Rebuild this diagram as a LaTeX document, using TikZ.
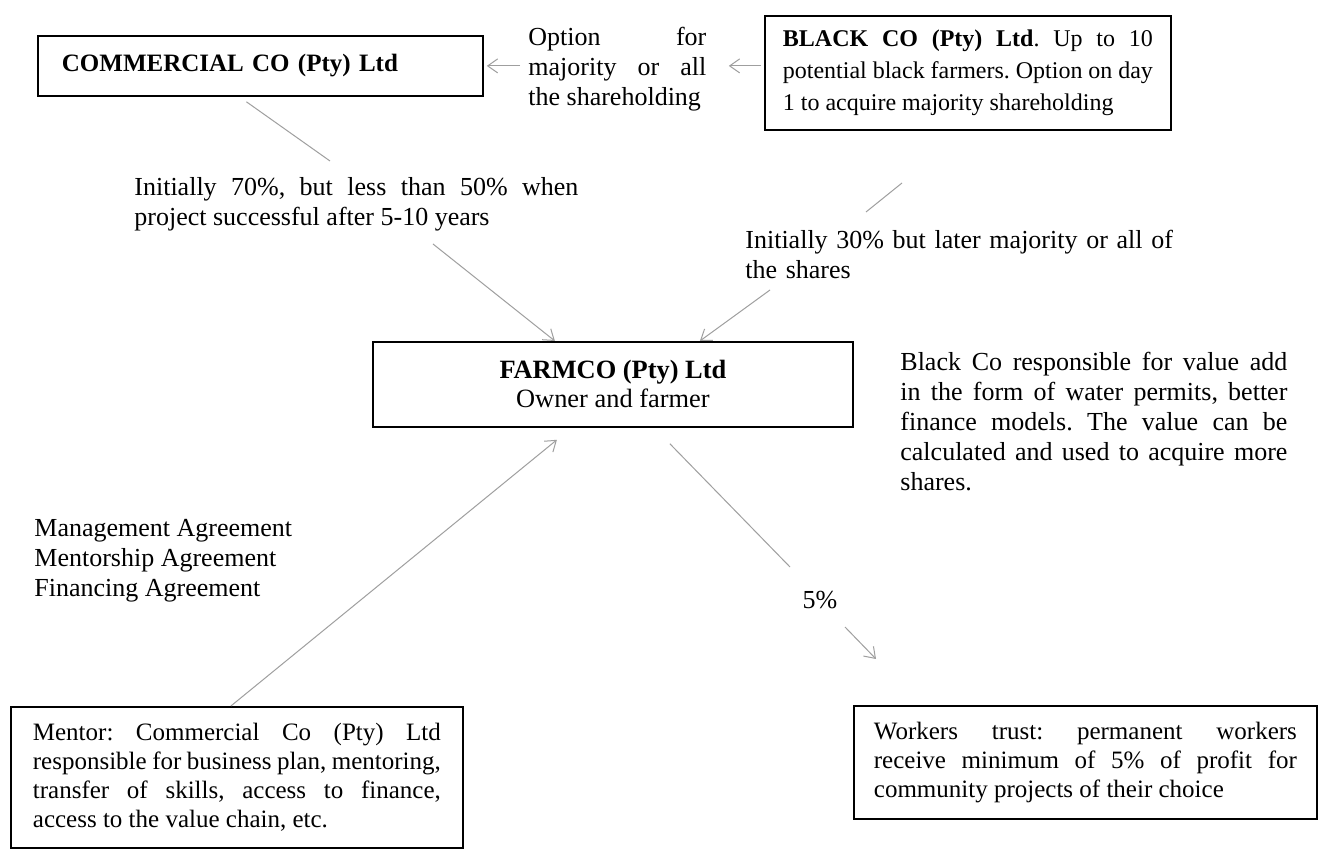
\documentclass[tikz,border=0pt]{standalone}
\usepackage{fontspec}
\setmainfont{Liberation Serif}
\usetikzlibrary{arrows.meta}
\frenchspacing

\newcommand{\tightfont}{\fontsize{12.5pt}{14.5pt}\selectfont}
\newcommand{\loosefont}{\fontsize{13pt}{15pt}\selectfont}
\newcommand{\blackfont}{\fontsize{12pt}{16pt}\selectfont}
\newcommand{\farmfont}{\fontsize{13.2pt}{14.5pt}\selectfont}

\tikzset{
  boxnode/.style={draw=black, line width=0.9pt, anchor=north west, align=justify},
  txtnode/.style={inner sep=0pt, anchor=north west, align=justify},
  link/.style={draw=gray!75, line width=0.5pt},
  linkarrow/.style={link, -{Straight Barb[length=5pt,width=7pt]}},
}

\begin{document}
\begin{tikzpicture}[x=0.5pt,y=-0.5pt]
\useasboundingbox (0,0) rectangle (1318,849);
\fill[white] (0,0) rectangle (1318,849);

% boxes
\node[boxnode, align=left, text width=198.5pt, inner xsep=12pt, minimum height=30pt, font=\tightfont\bfseries] (commercial) at (37,35) {COMMERCIAL CO (Pty) Ltd};
\node[boxnode, text width=185pt, inner xsep=9pt, minimum height=57pt, font=\blackfont] (black) at (764,15) {\textbf{BLACK CO (Pty) Ltd}. Up to 10\linebreak potential black farmers. Option on day\linebreak 1 to acquire majority shareholding};
\node[boxnode, align=center, inner sep=0pt, minimum width=240pt, minimum height=42.5pt, font=\farmfont] (farmco) at (372,341) {\textbf{FARMCO (Pty) Ltd}\\Owner and farmer};
\node[boxnode, text width=204pt, inner xsep=11pt, minimum height=70.5pt, font=\tightfont] (mentor) at (10,706) {Mentor: Commercial Co (Pty) Ltd\linebreak responsible for business plan, mentoring,\linebreak transfer of skills, access to finance,\linebreak access to the value chain, etc.};
\node[boxnode, text width=211.5pt, inner xsep=10pt, minimum height=56.5pt, font=\tightfont] (workers) at (853,705) {Workers trust: permanent workers\linebreak receive minimum of 5\% of profit for\linebreak community projects of their choice};

% free texts
\node[txtnode, text width=89pt, font=\loosefont] (option) at (528,27) {Option for\linebreak majority or all\linebreak the shareholding};
\node[txtnode, text width=222pt, font=\loosefont] (share70) at (134,177) {Initially 70\%, but less than 50\% when\linebreak project successful after 5-10 years};
\node[txtnode, align=left, text width=222pt, font=\loosefont] (share30) at (745,230) {Initially 30\% but later majority or all of\\the shares};
\node[txtnode, text width=193.5pt, font=\loosefont] (valueadd) at (900,352) {Black Co responsible for value add\linebreak in the form of water permits, better\linebreak finance models. The value can be\linebreak calculated and used to acquire more\linebreak shares.};
\node[txtnode, align=left, font=\loosefont] (agreements) at (34,519) {Management Agreement\\Mentorship Agreement\\Financing Agreement};
\node[font=\loosefont] (pct5) at (820,600) {5\%};

% connectors
\coordinate (c70top) at (330,161);
\coordinate (c70bot) at (433,244);
\coordinate (c30top) at (902,183);
\coordinate (c30mid) at (866,212);
\coordinate (c30bot) at (770,290);
\coordinate (c5top) at (790,567);
\coordinate (c5bot) at (845,627);

\draw[linkarrow, shorten <=4pt, shorten >=1.5pt] (option.west |- commercial.east) -- (commercial.east);
\draw[linkarrow, shorten <=1.5pt, shorten >=11pt] (black.west |- commercial.east) -- (option.east |- commercial.east);
\draw[link] ([shift={(-14,5)}]commercial.south) -- (c70top);
\draw[linkarrow] (c70bot) -- ([shift={(-58,0)}]farmco.north);
\draw[link] (c30top) -- (c30mid);
\draw[linkarrow] (c30bot) -- ([shift={(87,0)}]farmco.north);
\draw[link] ([shift={(57,16)}]farmco.south) -- (c5top);
\draw[linkarrow] (c5bot) -- ([shift={(23,-46)}]workers.north west);
\draw[linkarrow] ([shift={(-6,0)}]mentor.north) -- ([shift={(-56,12)}]farmco.south);
\end{tikzpicture}
\end{document}
